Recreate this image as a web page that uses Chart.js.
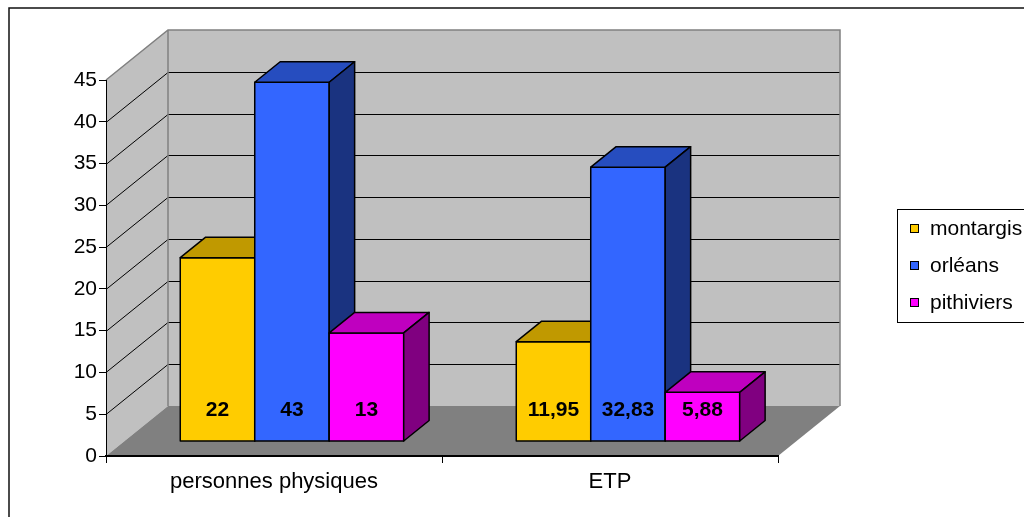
<!DOCTYPE html>
<html lang="fr">
<head>
<meta charset="utf-8">
<title>personnes physiques / ETP par site</title>
<script src="https://cdn.jsdelivr.net/npm/chart.js@4.4.1/dist/chart.umd.min.js"></script>
<style>
  html, body { margin: 0; padding: 0; background: #fff; overflow: hidden; }
  #wrap { width: 1024px; height: 517px; }
</style>
</head>
<body>
<div id="wrap"><canvas id="chart" width="1024" height="517"></canvas></div>
<script>
// --- Data ---
const categories = ['personnes physiques', 'ETP'];
const siteNames = ['montargis', 'orléans', 'pithiviers'];
const montargis = [22, 11.95];
const orleans = [43, 32.83];
const pithiviers = [13, 5.88];
const yTicks = [0, 5, 10, 15, 20, 25, 30, 35, 40, 45];

// --- Styles ---
const FONT = '"Liberation Sans", Arial, Helvetica, sans-serif';
const faces = [
    { front: '#ffcc00', top: '#c09900', side: '#806600' },
    { front: '#3366ff', top: '#264dbf', side: '#1a3380' },
    { front: '#ff00ff', top: '#bf00bf', side: '#800080' },
];
const WALL = '#c0c0c0';
const FLOOR = '#808080';
const EDGE = '#808080';

// depth of the box (px) and where the bars sit inside it (0 = front, 1 = back)
const depth = { x: 62, y: 50, barFront: 0.29, barBack: 0.70 };

const fmt = v => String(v).replace('.', ',');

function poly(ctx, pts) {
    ctx.beginPath();
    ctx.moveTo(pts[0][0], pts[0][1]);
    for (let i = 1; i < pts.length; i++) ctx.lineTo(pts[i][0], pts[i][1]);
    ctx.closePath();
}

// walls, floor and grid drawn before the axes
const box3d = {
    id: 'box3d',
    beforeDraw(chart) {
        const { ctx, chartArea: a } = chart;
        const yScale = chart.scales.y;
        const dx = depth.x, dy = depth.y;
        ctx.save();

        // left wall
        ctx.fillStyle = WALL;
        poly(ctx, [[a.left, a.bottom], [a.left, a.top], [a.left + dx, a.top - dy], [a.left + dx, a.bottom - dy]]);
        ctx.fill();
        // back wall
        ctx.fillRect(a.left + dx, a.top - dy, a.right - a.left, a.bottom - a.top);
        // floor
        ctx.fillStyle = FLOOR;
        poly(ctx, [[a.left, a.bottom], [a.right, a.bottom], [a.right + dx, a.bottom - dy], [a.left + dx, a.bottom - dy]]);
        ctx.fill();

        // grid lines on both walls
        ctx.strokeStyle = '#000';
        ctx.lineWidth = 1;
        yTicks.forEach(v => {
            if (v === yTicks[0] || v === yTicks[yTicks.length - 1]) return;
            const py = Math.round(yScale.getPixelForValue(v)) + 0.5;
            ctx.beginPath();
            ctx.moveTo(a.left, py);
            ctx.lineTo(a.left + dx, py - dy);
            ctx.lineTo(a.right + dx, py - dy);
            ctx.stroke();
        });

        // wall edges
        ctx.strokeStyle = EDGE;
        ctx.lineWidth = 1.5;
        ctx.beginPath();
        ctx.moveTo(a.left, a.top);
        ctx.lineTo(a.left + dx, a.top - dy);
        ctx.lineTo(a.right + dx, a.top - dy);
        ctx.lineTo(a.right + dx, a.bottom - dy);
        ctx.moveTo(a.left + dx, a.top - dy);
        ctx.lineTo(a.left + dx, a.bottom - dy);
        ctx.stroke();
        ctx.restore();
    },

    // replace the flat bars with boxes
    beforeDatasetsDraw(chart) {
        const { ctx } = chart;
        const fx = depth.barFront * depth.x, fy = depth.barFront * depth.y;
        const bx = (depth.barBack - depth.barFront) * depth.x;
        const by = (depth.barBack - depth.barFront) * depth.y;
        ctx.save();
        ctx.strokeStyle = '#000';
        ctx.lineWidth = 1.5;
        ctx.lineJoin = 'round';
        chart.data.datasets.forEach((ds, i) => {
            const c = faces[i];
            chart.getDatasetMeta(i).data.forEach(bar => {
                const x0 = bar.x - bar.width / 2 + fx, x1 = bar.x + bar.width / 2 + fx;
                const yt = bar.y - fy, yb = bar.base - fy;
                ctx.fillStyle = c.front;
                poly(ctx, [[x0, yb], [x0, yt], [x1, yt], [x1, yb]]);
                ctx.fill(); ctx.stroke();
                ctx.fillStyle = c.top;
                poly(ctx, [[x0, yt], [x0 + bx, yt - by], [x1 + bx, yt - by], [x1, yt]]);
                ctx.fill(); ctx.stroke();
                ctx.fillStyle = c.side;
                poly(ctx, [[x1, yt], [x1 + bx, yt - by], [x1 + bx, yb - by], [x1, yb]]);
                ctx.fill(); ctx.stroke();
            });
        });
        ctx.restore();
        return false;
    },

    afterDraw(chart) {
        const { ctx } = chart;
        const fx = depth.barFront * depth.x, fy = depth.barFront * depth.y;
        ctx.save();

        // value labels inside the front faces
        ctx.font = 'bold 21px ' + FONT;
        ctx.fillStyle = '#000';
        ctx.textAlign = 'center';
        ctx.textBaseline = 'middle';
        chart.data.datasets.forEach((ds, i) => {
            chart.getDatasetMeta(i).data.forEach((bar, j) => {
                ctx.fillText(fmt(ds.data[j]), bar.x + fx, bar.base - fy - 31);
            });
        });

        // legend
        const lx = 897, ly = 209, lh = 113, rowH = 37;
        ctx.fillStyle = '#fff';
        ctx.fillRect(lx, ly, 200, lh);
        ctx.strokeStyle = '#000';
        ctx.lineWidth = 1;
        ctx.strokeRect(lx + 0.5, ly + 0.5, 200, lh);
        ctx.font = '21px ' + FONT;
        ctx.textAlign = 'left';
        chart.data.datasets.forEach((ds, i) => {
            const cy = ly + 20 + i * rowH;
            ctx.fillStyle = ds.backgroundColor;
            ctx.fillRect(lx + 13, cy - 5, 9, 9);
            ctx.strokeRect(lx + 13.5, cy - 4.5, 8, 8);
            ctx.fillStyle = '#000';
            ctx.fillText(ds.label, lx + 33, cy);
        });

        // outer frame
        ctx.lineWidth = 1.5;
        ctx.strokeStyle = '#111';
        ctx.strokeRect(9, 8, 2000, 2000);
        ctx.restore();
    }
};

const seriesValues = [montargis, orleans, pithiviers];

new Chart(document.getElementById('chart'), {
    type: 'bar',
    data: {
        labels: categories,
        datasets: seriesValues.map((vals, i) => ({
            label: siteNames[i],
            data: vals,
            backgroundColor: faces[i].front,
            categoryPercentage: 0.665,
            barPercentage: 1,
        })),
    },
    options: {
        responsive: false,
        animation: false,
        layout: { padding: { top: 80, right: 246, left: 0, bottom: 0 } },
        scales: {
            x: {
                grid: { display: true, drawOnChartArea: false, drawTicks: true, tickLength: 7, color: '#000' },
                border: { display: true, color: '#000', width: 2 },
                ticks: { color: '#000', font: { family: FONT, size: 22 }, padding: 6 },
                afterFit: s => { s.height = 61; },
            },
            y: {
                min: yTicks[0],
                max: yTicks[yTicks.length - 1],
                afterBuildTicks: s => { s.ticks = yTicks.map(v => ({ value: v })); },
                grid: { display: true, drawOnChartArea: false, drawTicks: true, tickLength: 7, color: '#000' },
                border: { display: true, color: '#000', width: 1 },
                ticks: { color: '#000', font: { family: FONT, size: 21 }, padding: 2 },
                afterFit: s => { s.width = 106; },
            },
        },
        plugins: {
            legend: { display: false },
            tooltip: { enabled: false },
        },
    },
    plugins: [box3d],
});
</script>
</body>
</html>
